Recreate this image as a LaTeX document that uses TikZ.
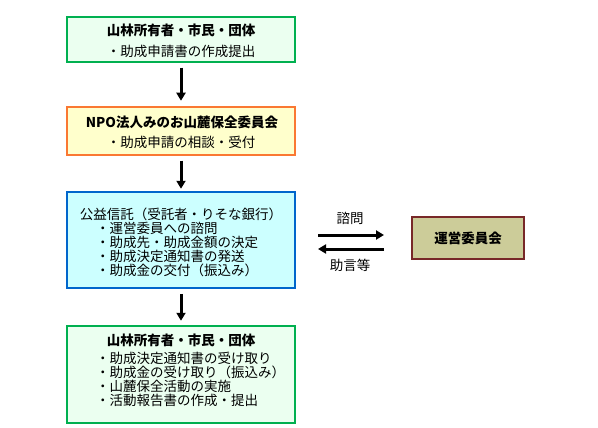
\documentclass[tikz,border=0pt]{standalone}
\usepackage{fontspec}
\setmainfont{Noto Sans CJK JP}
\usetikzlibrary{arrows.meta}
\definecolor{gborder}{RGB}{0,176,80}
\definecolor{gfill}{RGB}{235,255,240}
\definecolor{oborder}{RGB}{250,120,50}
\definecolor{ofill}{RGB}{255,255,204}
\definecolor{bborder}{RGB}{0,102,204}
\definecolor{bfill}{RGB}{204,255,255}
\definecolor{rborder}{RGB}{120,40,40}
\definecolor{rfill}{RGB}{204,204,153}
\begin{document}
\begin{tikzpicture}[x=1pt,y=-1pt,
  box/.style={draw, line width=2.5pt, minimum width=228pt, inner sep=0pt},
  txt/.style={inner sep=0pt, font=\fontsize{13.5}{13.5}\selectfont},
  ttl/.style={inner sep=0pt, font=\fontsize{13.5}{13.5}\selectfont\bfseries},
  flow/.style={line width=3pt, -{Triangle[width=9pt,length=8pt]}}]
\useasboundingbox (0,0) rectangle (598,428);
\fill[white] (0,0) rectangle (598,428);
% boxes
\node[box, draw=gborder, fill=gfill, minimum height=45pt] (b1) at (181,39.5) {};
\node[box, draw=oborder, fill=ofill, minimum height=48pt] (b2) at (181,131) {};
\node[box, draw=bborder, fill=bfill, minimum height=96pt] (b3) at (181,240) {};
\node[box, draw=gborder, fill=gfill, minimum height=97pt] (b4) at (181,374.5) {};
\node[draw=rborder, fill=rfill, line width=2.5pt, minimum width=112pt, minimum height=42pt, inner sep=0pt] (r) at (468,238) {};
% texts box1
\node[ttl] (t1) at (181,30) {山林所有者・市民・団体};
\node[txt] (t1a) at (181,51) {・助成申請書の作成提出};
% box2
\node[ttl] (t2) at (182,122) {NPO法人みのお山麓保全委員会};
\node[txt] (t2a) at (181,142) {・助成申請の相談・受付};
% box3
\node[txt] (t3) at (181,214) {公益信託（受託者・りそな銀行）};
\node[txt, anchor=west] (t3a) at (96,228) {・運営委員への諮問};
\node[txt, anchor=west] (t3b) at (96,242) {・助成先・助成金額の決定};
\node[txt, anchor=west] (t3c) at (96,256) {・助成決定通知書の発送};
\node[txt, anchor=west] (t3d) at (96,270) {・助成金の交付（振込み）};
% box4
\node[ttl] (t4) at (181,340) {山林所有者・市民・団体};
\node[txt, anchor=west] (t4a) at (96,358) {・助成決定通知書の受け取り};
\node[txt, anchor=west] (t4b) at (96,372) {・助成金の受け取り（振込み）};
\node[txt, anchor=west] (t4c) at (96,386) {・山麓保全活動の実施};
\node[txt, anchor=west] (t4d) at (96,400) {・活動報告書の作成・提出};
% right box text
\node[ttl] (rt) at (468,238) {運営委員会};
% labels
\node[txt] (l1) at (350,218) {諮問};
\node[txt] (l2) at (350,265) {助言等};
% vertical arrows
\draw[flow, shorten <=4.5pt, shorten >=5pt] (b1) -- (b2);
\draw[flow, shorten <=4.5pt, shorten >=2pt] (b2) -- (b3);
\draw[flow, shorten <=4.5pt, shorten >=4pt] (b3) -- (b4);
% horizontal arrows
\coordinate (h1s) at (318,235);
\coordinate (h1e) at (384,235);
\coordinate (h2s) at (384,249);
\coordinate (h2e) at (318,249);
\draw[flow] (h1s) -- (h1e);
\draw[flow] (h2s) -- (h2e);
\end{tikzpicture}
\end{document}
